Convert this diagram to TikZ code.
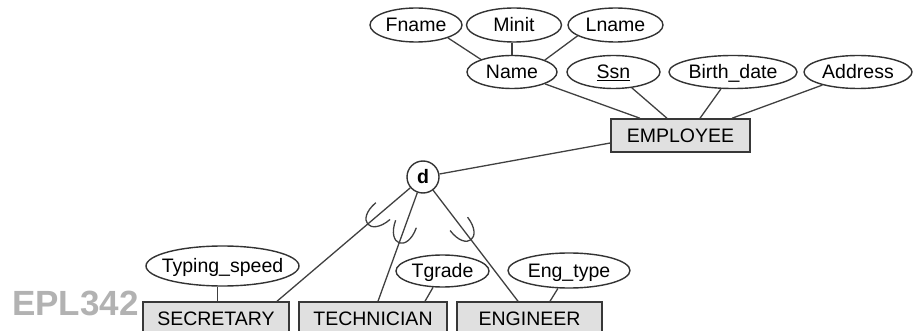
\documentclass[tikz,border=0pt]{standalone}
\usepackage{fontspec}
\setmainfont{Liberation Sans}
\usetikzlibrary{calc,shapes.geometric}
\newcommand{\ertxt}[1]{\makebox[0pt]{#1}}
\newcommand{\ercup}[2]{%
  \coordinate (cB) at ($(dd.center)!#2!(#1)$);
  \coordinate (cT) at ($(cB)!20pt!(dd.center)$);
  \coordinate (cC) at ($(cB)!-6.7pt!(dd.center)$);
  \draw[con] ($(cT)!11pt!90:(dd.center)$) .. controls ($(cC)!11pt!90:(dd.center)$) and ($(cC)!11pt!-90:(dd.center)$) .. ($(cT)!11pt!-90:(dd.center)$);
}
\begin{document}
\begin{tikzpicture}[x=1pt,y=-1pt,
  attr/.style={ellipse,draw=black!80,fill=white,line width=1.4pt,inner sep=0pt,
    font=\fontsize{19.5}{22}\selectfont,text height=13.6pt,text depth=0pt},
  ent/.style={rectangle,draw=black!78,fill=black!12,line width=1.5pt,inner sep=0pt,
    minimum height=33pt,font=\fontsize{19.5}{22}\selectfont,text height=13.6pt,text depth=0pt},
  disj/.style={circle,draw=black!80,fill=white,line width=1.4pt,inner sep=0pt,minimum size=32pt,
    font=\fontsize{19.5}{22}\selectfont\bfseries,text height=13.6pt,text depth=0pt},
  con/.style={draw=black!75,line width=1.3pt},
  wm/.style={anchor=base west,inner sep=0pt,text=black!30,font=\fontsize{35}{38}\selectfont\bfseries}]
\clip (0,0) rectangle (913,331);
\node[wm] (wmark) at (12,315) {EPL342};
% top attributes
\node[attr,minimum width=92pt,minimum height=34pt] (fn) at (416,25) {\ertxt{Fname}};
\node[attr,minimum width=95pt,minimum height=34pt] (mi) at (514,25) {\ertxt{Minit}};
\node[attr,minimum width=95pt,minimum height=34pt] (ln) at (615.5,25) {\ertxt{Lname}};
\node[attr,minimum width=90pt,minimum height=33pt] (nm) at (512,72) {\ertxt{Name}};
\node[attr,minimum width=93pt,minimum height=33pt] (ssn) at (613.5,72) {\ertxt{\underline{Ssn}}};
\node[attr,minimum width=128pt,minimum height=33pt] (bd) at (733,72) {\ertxt{Birth\_date}};
\node[attr,minimum width=108pt,minimum height=33pt] (ad) at (858,72) {\ertxt{Address}};
% entities
\node[ent,minimum width=139pt] (emp) at (680.5,135.5) {EMPLOYEE};
\node[disj] (dd) at (423,177) {d};
\node[ent,minimum width=146pt] (sec) at (216,318.5) {SECRETARY};
\node[ent,minimum width=148pt] (tech) at (373,318.5) {TECHNICIAN};
\node[ent,minimum width=145pt] (eng) at (529.5,318.5) {ENGINEER};
% bottom attributes
\node[attr,minimum width=153pt,minimum height=40pt] (ts) at (222.5,266) {\ertxt{Typing\_speed}};
\node[attr,minimum width=93pt,minimum height=32pt] (tg) at (442.5,271) {\ertxt{Tgrade}};
\node[attr,minimum width=122pt,minimum height=35pt] (et) at (569,270.5) {\ertxt{Eng\_type}};
% connectors
\draw[con] (fn.-22) -- (nm.158);
\draw[con] ([xshift=-2pt]mi.south) -- ([xshift=-2pt]mi.south |- nm.north);
\draw[con] (ln.196) -- (nm.20);
\draw[con] (nm) -- ([xshift=-40.5pt]emp.north);
\draw[con] (ssn) -- ([xshift=-13.5pt]emp.north);
\draw[con] (bd) -- ([xshift=19.5pt]emp.north);
\draw[con] (ad) -- ([xshift=51.5pt]emp.north);
\draw[con] (dd) -- ([yshift=-7.5pt]emp.west);
\draw[con] (dd) -- ([xshift=61pt]sec.north);
\draw[con] (dd) -- ([xshift=5pt]tech.north);
\draw[con] (dd) -- ([xshift=-11.5pt]eng.north);
\draw[con] ([xshift=-5pt]ts.south) -- ([xshift=-5pt]ts.south |- sec.north);
\draw[con] (tg) -- ([xshift=52pt]tech.north);
\draw[con] (et) -- ([xshift=20.5pt]eng.north);
% subset symbols
\ercup{[xshift=61pt]sec.north}{72.6pt}
\ercup{[xshift=5pt]tech.north}{70pt}
\ercup{[xshift=-11.5pt]eng.north}{79pt}
\end{tikzpicture}
\end{document}
